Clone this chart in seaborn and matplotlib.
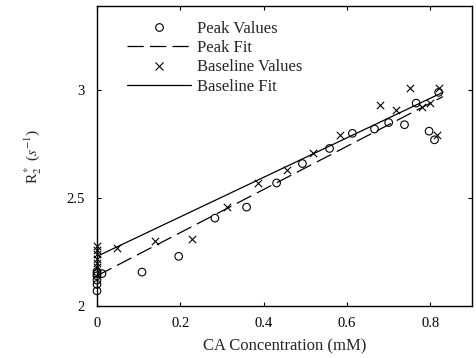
import numpy as np
import pandas as pd
import matplotlib
matplotlib.use("Agg")
import matplotlib.pyplot as plt
import seaborn as sns
from matplotlib.lines import Line2D

# peak values (circles)
peak_x = [0, 0, 0, 0, 0, 0, 0.012, 0.108, 0.196, 0.283, 0.359, 0.431, 0.493,
          0.558, 0.613, 0.666, 0.70, 0.738, 0.766, 0.797, 0.81, 0.82]
peak_y = [2.07, 2.10, 2.12, 2.14, 2.15, 2.16, 2.15, 2.157, 2.23, 2.407, 2.458, 2.57, 2.66,
          2.73, 2.80, 2.82, 2.85, 2.84, 2.94, 2.81, 2.77, 2.99]

# baseline values (crosses)
base_x = [0, 0, 0, 0, 0, 0, 0.048, 0.139, 0.228, 0.311, 0.386, 0.455, 0.518,
          0.582, 0.678, 0.718, 0.75, 0.78, 0.798, 0.82, 0.815]
base_y = [2.18, 2.20, 2.22, 2.24, 2.26, 2.28, 2.27, 2.30, 2.31, 2.46, 2.57, 2.63, 2.71,
          2.79, 2.93, 2.91, 3.01, 2.92, 2.94, 3.01, 2.79]

# fit line end points
fit_x = [0, 0.83]
peak_fit = [2.14, 2.97]
base_fit = [2.23, 2.99]

DASH = (0, (13, 5))

sns.set_style("ticks")
plt.rcParams["font.family"] = ["Liberation Serif", "DejaVu Serif"]
plt.rcParams["mathtext.fontset"] = "stix"

fig = plt.figure(figsize=(4.76, 3.58), dpi=100)
ax = fig.add_axes([0.2038, 0.1453, 0.7878, 0.8379])

peaks = pd.DataFrame({"x": peak_x, "y": peak_y})
bases = pd.DataFrame({"x": base_x, "y": base_y})
fits = pd.DataFrame({"x": fit_x, "peak": peak_fit, "base": base_fit})

sns.lineplot(data=fits, x="x", y="peak", ax=ax, color="black", lw=0.9,
             dashes=False, linestyle=DASH)
sns.lineplot(data=fits, x="x", y="base", ax=ax, color="black", lw=0.9)
sns.scatterplot(data=peaks, x="x", y="y", ax=ax, marker="o", s=30,
                facecolor="none", edgecolor="black", linewidth=0.8, clip_on=False)
sns.scatterplot(data=bases, x="x", y="y", ax=ax, marker="x", s=28,
                color="black", linewidth=0.8, clip_on=False)

ax.set_xlim(0, 0.9)
ax.set_ylim(2, 3.39)
ax.set_xticks([0, 0.2, 0.4, 0.6, 0.8])
ax.set_xticklabels(["0", "0.2", "0.4", "0.6", "0.8"])
ax.set_yticks([2, 2.5, 3])
ax.set_yticklabels(["2", "2.5", "3"])
ax.tick_params(direction="in", length=3, width=0.8, top=True, right=True,
               labelsize=10.5, colors="black")
ax.tick_params(axis="x", pad=8)
ax.tick_params(axis="y", pad=9)
for sp in ax.spines.values():
    sp.set_visible(True)
    sp.set_linewidth(1.0)
    sp.set_color("black")

ax.set_xlabel("CA Concentration (mM)", fontsize=12, labelpad=6)
ax.set_ylabel(r"R$_2^*$ ($s^{-1}$)", fontsize=11, labelpad=16)

handles = [
    Line2D([], [], marker="o", ls="none", mfc="none", mec="black", ms=5.5, mew=0.8),
    Line2D([], [], color="black", lw=0.9, ls=DASH),
    Line2D([], [], marker="x", ls="none", color="black", ms=5.5, mew=0.8),
    Line2D([], [], color="black", lw=0.9),
]
labels = ["Peak Values", "Peak Fit", "Baseline Values", "Baseline Fit"]
ax.legend(handles, labels, loc="upper left", bbox_to_anchor=(0.05, 0.99),
          frameon=False, fontsize=12, handlelength=3.8, handletextpad=0.35,
          labelspacing=0.2, borderpad=0.2)

fig.savefig("out.png", dpi=100)
